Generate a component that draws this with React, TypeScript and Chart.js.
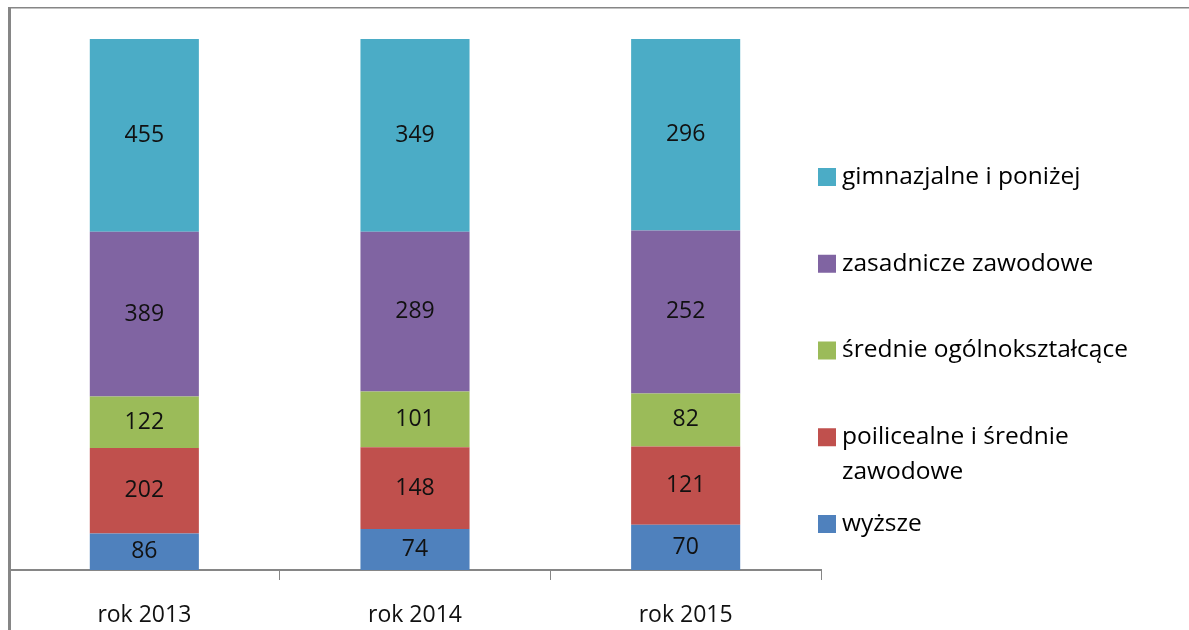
import React, { useEffect, useRef } from 'react';
import { Chart, registerables } from 'chart.js';

Chart.register(...registerables);

const FONT = "'Open Sans', 'Liberation Sans', sans-serif";

const categories = ['rok 2013', 'rok 2014', 'rok 2015'];

const wyzsze = [86, 74, 70];
const policealne = [202, 148, 121];
const srednieOgolne = [122, 101, 82];
const zasadnicze = [389, 289, 252];
const gimnazjalne = [455, 349, 296];

const seriesNames = [
  'wyższe',
  'poilicealne i średnie zawodowe',
  'średnie ogólnokształcące',
  'zasadnicze zawodowe',
  'gimnazjalne i poniżej',
];
const legendLines = [
  ['wyższe'],
  ['poilicealne i średnie', 'zawodowe'],
  ['średnie ogólnokształcące'],
  ['zasadnicze zawodowe'],
  ['gimnazjalne i poniżej'],
];
const seriesColors = ['#4F81BD', '#C0504D', '#9BBB59', '#8064A2', '#4BACC6'];

const framePlugin = {
  id: 'frame',
  beforeDraw(chart: any) {
    const { ctx, width, height } = chart;
    ctx.save();
    ctx.fillStyle = '#ffffff';
    ctx.fillRect(0, 0, width, height);
    ctx.fillStyle = '#868686';
    ctx.fillRect(8, 7, width - 8, 1.5);
    ctx.fillRect(8, 7, 3, height - 7);
    ctx.restore();
  },
};

const valueLabelPlugin = {
  id: 'valueLabels',
  afterDatasetsDraw(chart: any) {
    const { ctx } = chart;
    ctx.save();
    ctx.font = `23px ${FONT}`;
    ctx.fillStyle = '#111111';
    ctx.textAlign = 'center';
    ctx.textBaseline = 'middle';
    chart.data.datasets.forEach((ds: any, k: number) => {
      const meta = chart.getDatasetMeta(k);
      meta.data.forEach((el: any, i: number) => {
        const p = el.getProps(['x', 'y', 'base'], true);
        ctx.fillText(String(ds.rawValues[i]), p.x, (p.y + p.base) / 2);
      });
    });
    ctx.restore();
  },
};

const sideLegendPlugin = {
  id: 'sideLegend',
  afterDraw(chart: any) {
    const { ctx, chartArea } = chart;
    const n = chart.data.datasets.length;
    ctx.save();
    ctx.font = `24.5px ${FONT}`;
    ctx.textBaseline = 'middle';
    ctx.textAlign = 'left';
    const boxX = chartArea.right - 3;
    for (let r = 0; r < n; r++) {
      const k = n - 1 - r;
      const ds = chart.data.datasets[k];
      const cy = chartArea.top + 138 + r * 86.75;
      ctx.fillStyle = ds.backgroundColor;
      ctx.fillRect(boxX, cy - 9, 18, 18);
      ctx.fillStyle = '#000000';
      legendLines[k].forEach((line, j) => ctx.fillText(line, boxX + 24, cy + j * 35));
    }
    ctx.restore();
  },
};

export default function App() {
  const ref = useRef<HTMLCanvasElement>(null);

  useEffect(() => {
    const values = [wyzsze, policealne, srednieOgolne, zasadnicze, gimnazjalne];
    const totals = categories.map((_, i) => values.reduce((s, v) => s + v[i], 0));
    const chart = new Chart(ref.current as HTMLCanvasElement, {
      type: 'bar',
      data: {
        labels: categories,
        datasets: values.map((v, k) => ({
          label: seriesNames[k],
          data: v.map((x, i) => (x / totals[i]) * 100),
          rawValues: v,
          backgroundColor: seriesColors[k],
          borderWidth: 0,
          barPercentage: 0.403,
          categoryPercentage: 1,
        })) as any,
      },
      options: {
        responsive: false,
        maintainAspectRatio: false,
        animation: false,
        layout: { padding: { left: 9, right: 368, top: 39, bottom: 0 } },
        plugins: {
          legend: { display: false },
          tooltip: { enabled: false },
          title: { display: false },
        },
        scales: {
          x: {
            stacked: true,
            offset: true,
            grid: {
              offset: true,
              drawOnChartArea: false,
              drawTicks: true,
              tickLength: 10,
              color: '#868686',
              lineWidth: 1,
            },
            border: { color: '#868686', width: 2 },
            ticks: { font: { family: FONT, size: 23 }, color: '#111111', padding: 22 },
            afterFit: (s: any) => {
              s.height = 60;
            },
          },
          y: { stacked: true, display: false, min: 0, max: 100 },
        },
      },
      plugins: [framePlugin, valueLabelPlugin, sideLegendPlugin],
    });
    return () => chart.destroy();
  }, []);

  return (
    <div style={{ position: 'fixed', left: 0, top: 0, width: 1189, height: 630, background: '#ffffff' }}>
      <canvas ref={ref} width={1189} height={630} style={{ display: 'block' }} />
    </div>
  );
}
